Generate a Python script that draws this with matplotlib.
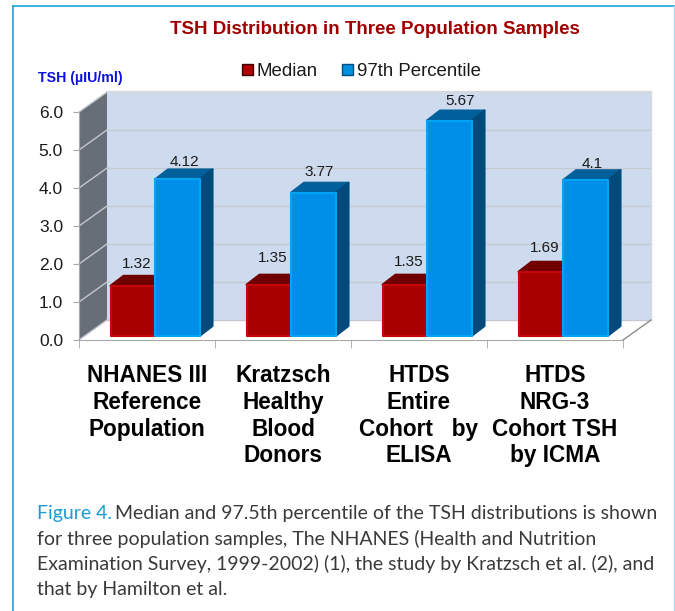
import matplotlib
matplotlib.use('Agg')
from matplotlib import pyplot as plt
from matplotlib.patches import Polygon, Patch
import numpy as np

categories = ['NHANES III\nReference\nPopulation', 'Kratzsch\nHealthy\nBlood\nDonors',
              'HTDS\nEntire\nCohort   by\nELISA', 'HTDS\nNRG-3\nCohort TSH\nby ICMA']
median = [1.32, 1.35, 1.35, 1.69]
p97 = [4.12, 3.77, 5.67, 4.1]
median_labels = ['1.32', '1.35', '1.35', '1.69']
p97_labels = ['4.12', '3.77', '5.67', '4.1']
yticks = [0, 1, 2, 3, 4, 5, 6]
caption_first = 'Figure 4.'
caption_rest = 'Median and 97.5th percentile of the TSH distributions is shown'
caption_lines = ['for three population samples, The NHANES (Health and Nutrition',
                 'Examination Survey, 1999-2002) (1), the study by Kratzsch et al. (2), and',
                 'that by Hamilton et al.']

W, H = 675, 611
plt.rcParams['font.family'] = ['Liberation Sans', 'DejaVu Sans']
fig = plt.figure(figsize=(W / 100, H / 100), dpi=100)
fig.patch.set_facecolor('white')
ax = fig.add_axes([79 / W, 1 - 340 / H, 544 / W, 228 / H])
ax.set_xlim(-0.5, 3.5)
ax.set_ylim(0, 6)
ax.patch.set_visible(False)

# pixels to data units
ux, uy = 1 / 136, 1 / 38
wall_dx, wall_dy = 28 * ux, 20 * uy
bar_dx, bar_dy = 8 * ux, 4 * uy
depth_x, depth_y = 13 * ux, 10 * uy
bar_w = 44.5 * ux

left, right = -0.5, 3.5
ax.add_patch(Polygon([(left + wall_dx, wall_dy), (right + wall_dx, wall_dy),
                      (right + wall_dx, 6 + wall_dy), (left + wall_dx, 6 + wall_dy)],
                     fc='#CEDBEE', ec='none', clip_on=False, zorder=1))
ax.add_patch(Polygon([(left, 0), (left + wall_dx, wall_dy), (left + wall_dx, 6 + wall_dy), (left, 6)],
                     fc='#686E78', ec='none', clip_on=False, zorder=1))
for v in yticks:
    c = '#D6D9DE' if v == 6 else '#C4C9D0'
    ax.plot([left + wall_dx, right + wall_dx], [v + wall_dy] * 2, color=c,
            lw=1.6 if v == 6 else 1, clip_on=False, zorder=2)
    ax.plot([left, left + wall_dx], [v, v + wall_dy], color='#C4C8CE', lw=1, clip_on=False, zorder=2)
ax.plot([right + wall_dx, right + wall_dx], [wall_dy, 6 + wall_dy], color='#D6D9DE', lw=1, clip_on=False, zorder=2)
ax.plot([right, right + wall_dx], [0, wall_dy], color='#8C8C8C', lw=1, clip_on=False, zorder=2)


def draw_bars(xs, vals, front, edge, top, side, z):
    for x, v in zip(xs, vals):
        y0, y1 = bar_dy, bar_dy + v
        ax.add_patch(Polygon([(x, y1), (x + depth_x, y1 + depth_y), (x + bar_w + depth_x, y1 + depth_y), (x + bar_w, y1)],
                             fc=top, ec=top, lw=1.5, joinstyle='round', clip_on=False, zorder=z))
        ax.add_patch(Polygon([(x + bar_w, y0), (x + bar_w + depth_x, y0 + depth_y), (x + bar_w + depth_x, y1 + depth_y), (x + bar_w, y1)],
                             fc=side, ec=side, lw=1.5, joinstyle='round', clip_on=False, zorder=z))
    ax.bar(xs, vals, width=bar_w, bottom=bar_dy, align='edge', color=front, edgecolor=edge,
           linewidth=1.5, joinstyle='round', clip_on=False, zorder=z + 0.5)


idx = np.arange(4)
draw_bars(idx + bar_dx - bar_w, median, '#A80000', '#C80808', '#700000', '#700000', 3)
draw_bars(idx + bar_dx, p97, '#008FE8', '#04A4F4', '#00609C', '#004A7C', 4)

# value labels, nudged by hand in pixels
median_nudge_x = [-3, -3, -3, -3]
median_nudge_y = [12, 17, 13, 14]
p97_nudge_x = [1, -1, 4, 0]
p97_nudge_y = [7, 11, 10, 6]
for i in idx:
    ax.annotate(median_labels[i], (i + bar_dx - bar_w / 2 + depth_x / 2, median[i] + bar_dy + depth_y),
                xytext=(median_nudge_x[i] * 0.72, median_nudge_y[i] * 0.72), textcoords='offset points',
                ha='center', va='center', fontsize=11, color='#1A1A1A', zorder=6, annotation_clip=False)
    ax.annotate(p97_labels[i], (i + bar_dx + bar_w / 2 + depth_x / 2, p97[i] + bar_dy + depth_y),
                xytext=(p97_nudge_x[i] * 0.72, p97_nudge_y[i] * 0.72), textcoords='offset points',
                ha='center', va='center', fontsize=11, color='#1A1A1A', zorder=6, annotation_clip=False)

for s in ['top', 'right']:
    ax.spines[s].set_visible(False)
ax.spines['left'].set_color('#A8A8A8')
ax.spines['bottom'].set_color('#A8A8A8')
ax.spines['left'].set_zorder(2.5)
ax.spines['bottom'].set_zorder(2.5)
ax.set_yticks(yticks)
ax.set_yticklabels(['%.1f' % v for v in yticks], fontsize=12.5, color='#1A1A1A')
ax.tick_params(axis='y', length=4, color='#A8A8A8', pad=7.5)
ax.set_xticks(idx)
ax.set_xticklabels(categories, fontsize=16.3, fontweight='bold', color='black', linespacing=1.2, va='top')
ax.tick_params(axis='x', which='major', length=0, pad=17.5)
ax.set_xticks(np.arange(5) - 0.5, minor=True)
ax.tick_params(axis='x', which='minor', length=6, color='#A8A8A8')

handles = [Patch(fc='#B00000', ec='#400000'), Patch(fc='#0090E0', ec='#004A7C')]
ax.legend(handles, ['Median', '97th Percentile'], ncol=2, frameon=False, fontsize=13.4,
          loc='center', bbox_to_anchor=((361.5 - 79) / 544, (340 - 71.5) / 228),
          handlelength=0.58, handleheight=0.58, handletextpad=0.22, columnspacing=1.3,
          labelcolor='#1A1A1A')


def px_text(x, y, s, **kw):
    fig.text(x / W, 1 - y / H, s, **kw)


px_text(374.5, 30, 'TSH Distribution in Three Population Samples', ha='center', va='center',
        fontsize=13.5, fontweight='bold', color='#A00000')
px_text(38, 78, 'TSH (\u00b5IU/ml)', ha='left', va='center', fontsize=10.2, fontweight='bold', color='#0A10E0')

cap_font = ['Lato', 'DejaVu Sans']
px_text(37, 519, caption_first, ha='left', va='baseline', fontsize=14, color='#1C9CD0', family=cap_font)
px_text(115, 519, caption_rest, ha='left', va='baseline', fontsize=14, color='#3A3A3A', family=cap_font)
for j, line in enumerate(caption_lines):
    px_text(37, 519 + 25.5 * (j + 1), line, ha='left', va='baseline', fontsize=14, color='#3A3A3A', family=cap_font)

# outer frame
fig.add_artist(plt.Line2D([12.5 / W, 12.5 / W], [0, 1 - 5.5 / H], color='#1BA4D8', lw=1.2))
fig.add_artist(plt.Line2D([12.5 / W, 674 / W], [1 - 5.5 / H, 1 - 5.5 / H], color='#1BA4D8', lw=1.2))
fig.add_artist(plt.Line2D([674 / W, 674 / W], [0, 1 - 5.5 / H], color='#A8DCF0', lw=1))

fig.savefig('out.png', dpi=100)
